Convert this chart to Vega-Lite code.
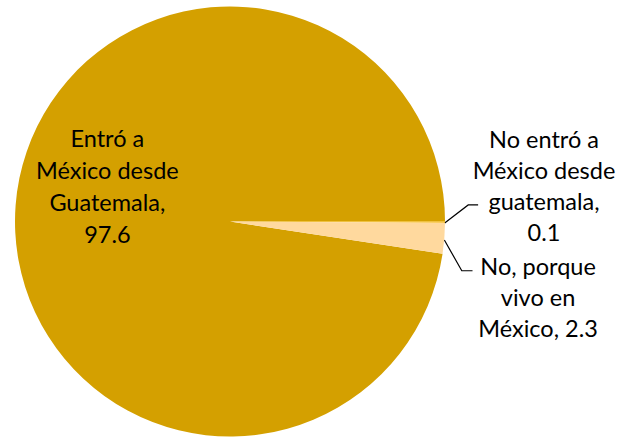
{
  "$schema": "https://vega.github.io/schema/vega-lite/v6.json",
  "width": 623,
  "height": 443,
  "padding": 0,
  "autosize": {"type": "none"},
  "background": "white",
  "config": {"view": {"stroke": null}},
  "datasets": {
    "porcentajes": [
      {"categoria": "Entró a México desde Guatemala", "valor": 97.6, "etiqueta": "Entró a\nMéxico desde\nGuatemala,\n97.6"},
      {"categoria": "No entró a México desde guatemala", "valor": 0.1, "etiqueta": "No entró a\nMéxico desde\nguatemala,\n0.1"},
      {"categoria": "No, porque vivo en México", "valor": 2.3, "etiqueta": "No, porque\nvivo en\nMéxico, 2.3"}
    ],
    "guias": [
      {"guia": "A", "paso": 1, "gx": 0.997, "gy": -0.008},
      {"guia": "A", "paso": 2, "gx": 1.108, "gy": 0.077},
      {"guia": "A", "paso": 3, "gx": 1.154, "gy": 0.077},
      {"guia": "B", "paso": 1, "gx": 0.997, "gy": -0.086},
      {"guia": "B", "paso": 2, "gx": 1.078, "gy": -0.229},
      {"guia": "B", "paso": 3, "gx": 1.128, "gy": -0.229}
    ]
  },
  "layer": [
    {
      "data": {"name": "guias"},
      "mark": {"type": "line", "color": "#000000", "strokeWidth": 1.2},
      "encoding": {
        "x": {"field": "gx", "type": "quantitative", "axis": null, "scale": {"domain": [-1.0698, 1.8279], "nice": false, "zero": false}},
        "y": {"field": "gy", "type": "quantitative", "axis": null, "scale": {"domain": [-1.0302, 1.0302], "nice": false, "zero": false}},
        "detail": {"field": "guia", "type": "nominal"},
        "order": {"field": "paso", "type": "quantitative"}
      }
    },
    {
      "data": {"name": "porcentajes"},
      "mark": {"type": "arc", "outerRadius": 215},
      "encoding": {
        "x": {"datum": 0, "type": "quantitative"},
        "y": {"datum": 0, "type": "quantitative"},
        "theta": {"field": "valor", "type": "quantitative", "stack": true, "scale": {"domain": [0, 100], "range": [1.5708, 7.854]}},
        "order": {"field": "valor", "sort": "ascending"},
        "color": {"field": "categoria", "type": "nominal", "legend": null,
          "scale": {"domain": ["Entró a México desde Guatemala", "No entró a México desde guatemala", "No, porque vivo en México"],
                    "range": ["#D4A000", "#F5B400", "#FFD99E"]}}
      }
    },
    {
      "data": {"name": "porcentajes"},
      "mark": {"type": "text", "radius": 122, "dx": -1, "dy": -72, "font": "Lato", "fontSize": 23.5, "lineBreak": "\n", "lineHeight": 32, "align": "center", "baseline": "middle", "color": "#000000"},
      "encoding": {
        "x": {"datum": 0, "type": "quantitative"},
        "y": {"datum": 0, "type": "quantitative"},
        "theta": {"field": "valor", "type": "quantitative", "stack": true, "scale": {"domain": [0, 100], "range": [1.5708, 7.854]}},
        "order": {"field": "valor", "sort": "ascending"},
        "text": {"condition": {"test": "datum.valor == 97.6", "field": "etiqueta"}, "value": ""}
      }
    },
    {
      "data": {"name": "porcentajes"},
      "mark": {"type": "text", "radius": 314, "dy": -81, "font": "Lato", "fontSize": 23.5, "lineBreak": "\n", "lineHeight": 31, "align": "center", "baseline": "middle", "color": "#000000"},
      "encoding": {
        "x": {"datum": 0, "type": "quantitative"},
        "y": {"datum": 0, "type": "quantitative"},
        "theta": {"field": "valor", "type": "quantitative", "stack": true, "scale": {"domain": [0, 100], "range": [1.5708, 7.854]}},
        "order": {"field": "valor", "sort": "ascending"},
        "text": {"condition": {"test": "datum.valor == 0.1", "field": "etiqueta"}, "value": ""}
      }
    },
    {
      "data": {"name": "porcentajes"},
      "mark": {"type": "text", "radius": 309, "dy": 22, "font": "Lato", "fontSize": 23.5, "lineBreak": "\n", "lineHeight": 31, "align": "center", "baseline": "middle", "color": "#000000"},
      "encoding": {
        "x": {"datum": 0, "type": "quantitative"},
        "y": {"datum": 0, "type": "quantitative"},
        "theta": {"field": "valor", "type": "quantitative", "stack": true, "scale": {"domain": [0, 100], "range": [1.5708, 7.854]}},
        "order": {"field": "valor", "sort": "ascending"},
        "text": {"condition": {"test": "datum.valor == 2.3", "field": "etiqueta"}, "value": ""}
      }
    }
  ]
}
